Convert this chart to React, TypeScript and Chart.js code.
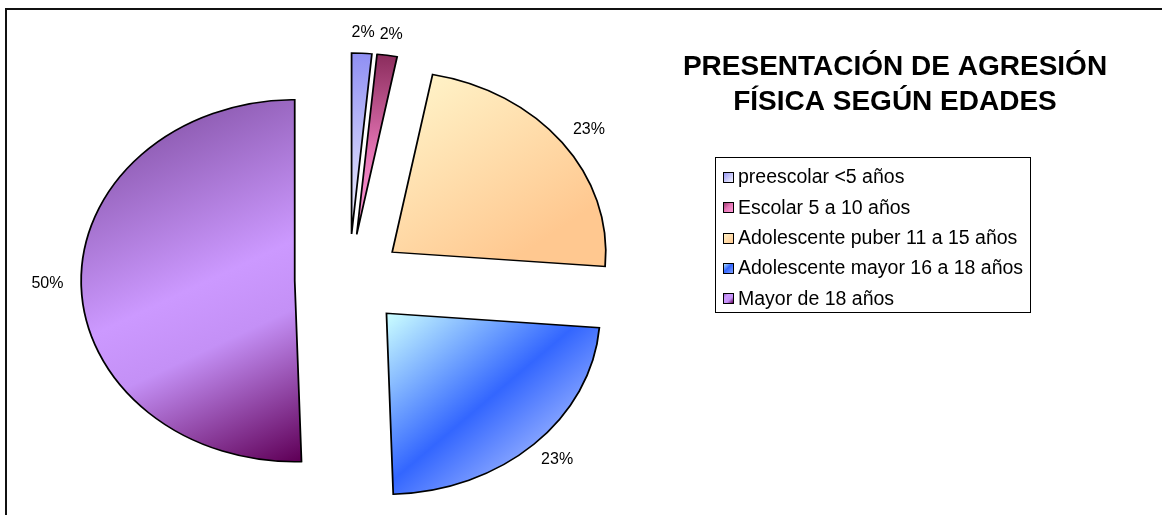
import React, { useEffect, useRef } from "react";
import { Chart, registerables } from "chart.js";

Chart.register(...registerables);

// ---- data ----
const categories = [
  "preescolar <5 años",
  "Escolar 5 a 10 años",
  "Adolescente puber 11 a 15 años",
  "Adolescente mayor 16 a 18 años",
  "Mayor de 18 años",
];
const percentages = [1.5, 1.5, 23, 23, 50];
const titleLines = ["PRESENTACIÓN DE AGRESIÓN", "FÍSICA SEGÚN EDADES"];

// ---- styles ----
const FONT = '"Liberation Sans", Arial, Helvetica, sans-serif';
const SX = 1.18; // horizontal stretch (elliptical pie)
const EXPLODE = 46;
const RADIUS = 181;
const W = 1162;
const H = 515;

type Grad = { v: [number, number, number, number]; stops: [number, string][] };
const sliceGradients: Grad[] = [
  { v: [0, -1, 0, 0], stops: [[0, "#8f8ff3"], [1, "#f4f4ff"]] },
  { v: [0, -1, 0, 0], stops: [[0, "#8a2c5c"], [0.55, "#e474b4"], [1, "#ff9ad8"]] },
  { v: [0.05, -1, 0.75, -0.1], stops: [[0, "#fff6cc"], [1, "#ffc890"]] },
  { v: [0, 0, 0.7, 0.7], stops: [[0, "#ccffff"], [0.68, "#3366ff"], [1, "#7f9fff"]] },
  { v: [-1, -0.8, 0, 1], stops: [[0, "#8452a6"], [0.48, "#cc99ff"], [0.64, "#c490f6"], [1, "#600058"]] },
];
const flatColors = ["#ccccff", "#cc6699", "#ffcc99", "#3366ff", "#cc99ff"];

function makeGrad(ctx: CanvasRenderingContext2D, g: Grad, ax: number, ay: number, r: number) {
  const lg = ctx.createLinearGradient(ax + g.v[0] * r, ay + g.v[1] * r, ax + g.v[2] * r, ay + g.v[3] * r);
  g.stops.forEach(([o, c]) => lg.addColorStop(o, c));
  return lg;
}

function sliceApex(chart: any, i: number) {
  const a = chart.chartArea;
  const cx = (a.left + a.right) / 2;
  const cy = (a.top + a.bottom) / 2;
  const vals = chart.data.datasets[0].data as number[];
  const total = vals.reduce((s, v) => s + v, 0);
  let cum = 0;
  for (let k = 0; k < i; k++) cum += vals[k];
  const start = -Math.PI / 2 + (2 * Math.PI * cum) / total;
  const end = start + (2 * Math.PI * vals[i]) / total;
  const mid = (start + end) / 2;
  return { x: cx + EXPLODE * Math.cos(mid), y: cy + EXPLODE * Math.sin(mid) };
}

const explodePlugin = {
  id: "explodeSlices",
  afterDatasetUpdate(chart: any, args: any) {
    const meta = chart.getDatasetMeta(args.index);
    meta.data.forEach((el: any) => {
      const mid = (el.startAngle + el.endAngle) / 2;
      el.x += EXPLODE * Math.cos(mid);
      el.y += EXPLODE * Math.sin(mid);
    });
  },
};

const stretchPlugin = {
  id: "stretchPie",
  beforeDatasetsDraw(chart: any) {
    const { ctx, chartArea: a } = chart;
    const cx = (a.left + a.right) / 2;
    ctx.save();
    ctx.translate(cx, 0);
    ctx.scale(SX, 1);
    ctx.translate(-cx, 0);
  },
  afterDatasetsDraw(chart: any) {
    chart.ctx.restore();
  },
};

const framePlugin = {
  id: "frame",
  beforeDraw(chart: any) {
    const ctx = chart.ctx as CanvasRenderingContext2D;
    ctx.save();
    ctx.fillStyle = "#ffffff";
    ctx.fillRect(0, 0, W, H);
    ctx.strokeStyle = "#111111";
    ctx.lineWidth = 2;
    ctx.beginPath();
    ctx.moveTo(6, H + 5);
    ctx.lineTo(6, 9);
    ctx.lineTo(W + 5, 9);
    ctx.stroke();
    ctx.restore();
  },
};

const decorPlugin = {
  id: "decor",
  afterDraw(chart: any) {
    const ctx = chart.ctx as CanvasRenderingContext2D;
    const a = chart.chartArea;
    const cx = (a.left + a.right) / 2;
    const meta = chart.getDatasetMeta(0);
    const vals = chart.data.datasets[0].data as number[];
    ctx.save();

    // percentage labels (outside end)
    ctx.font = `16px ${FONT}`;
    ctx.fillStyle = "#000";
    ctx.textAlign = "center";
    ctx.textBaseline = "middle";
    meta.data.forEach((el: any, i: number) => {
      const mid = (el.startAngle + el.endAngle) / 2;
      const ax = cx + SX * (el.x - cx);
      const ay = el.y;
      const txt = `${Math.round(vals[i])}%`;
      const w = ctx.measureText(txt).width;
      const d = RADIUS + 15;
      const px = ax + SX * d * Math.cos(mid) + (w / 2) * Math.cos(mid);
      const py = ay + d * Math.sin(mid) + 6 * Math.sin(mid);
      ctx.fillText(txt, px, py);
    });

    // title
    ctx.font = `bold 28px ${FONT}`;
    ctx.fillText(titleLines[0], 895, 67);
    ctx.fillText(titleLines[1], 895, 102);

    // legend
    const bx = 715.5, by = 157.5, bw = 315, bh = 155;
    ctx.fillStyle = "#fff";
    ctx.fillRect(bx, by, bw, bh);
    ctx.strokeStyle = "#000";
    ctx.lineWidth = 1;
    ctx.strokeRect(bx, by, bw, bh);
    ctx.font = `19.5px ${FONT}`;
    ctx.textAlign = "left";
    categories.forEach((lab, i) => {
      const y = 177 + i * 30.3;
      const sx = 723, sy = Math.round(y - 5), s = 10;
      const g = sliceGradients[i];
      const lg = ctx.createLinearGradient(sx, sy, sx + s, sy + s);
      const n = g.stops.length;
      g.stops.forEach(([o, c], k) => lg.addColorStop(n > 1 ? k / (n - 1) : o, c));
      ctx.fillStyle = lg;
      ctx.fillRect(sx, sy, s, s);
      ctx.strokeStyle = "#000";
      ctx.strokeRect(sx + 0.5, sy + 0.5, s, s);
      ctx.fillStyle = "#000";
      ctx.fillText(lab, 738, y + 1);
    });
    ctx.restore();
  },
};

export default function App() {
  const ref = useRef<HTMLCanvasElement | null>(null);
  useEffect(() => {
    if (!ref.current) return;
    const chart = new Chart(ref.current, {
      type: "pie",
      data: {
        labels: categories,
        datasets: [
          {
            data: percentages,
            radius: RADIUS,
            clip: false,
            borderColor: "#000000",
            borderWidth: 1.5,
            borderJoinStyle: "miter",
            backgroundColor: (c: any) => {
              const chart = c.chart;
              const i = c.dataIndex;
              if (!chart.chartArea || c.type !== "data") return flatColors[i] ?? "#ccc";
              const p = sliceApex(chart, i);
              return makeGrad(chart.ctx, sliceGradients[i], p.x, p.y, RADIUS);
            },
          } as any,
        ],
      },
      options: {
        responsive: false,
        animation: false,
        devicePixelRatio: 1,
        layout: { padding: { left: 0, right: W - 698, top: 45, bottom: 0 } },
        plugins: {
          legend: { display: false },
          title: { display: false },
          tooltip: { enabled: false },
        },
        events: [],
      },
      plugins: [framePlugin, explodePlugin, stretchPlugin, decorPlugin],
    });
    return () => chart.destroy();
  }, []);
  return (
    <div style={{ position: "absolute", left: 0, top: 0, width: W, height: H, background: "#fff" }}>
      <canvas ref={ref} width={W} height={H} style={{ display: "block" }} />
    </div>
  );
}
